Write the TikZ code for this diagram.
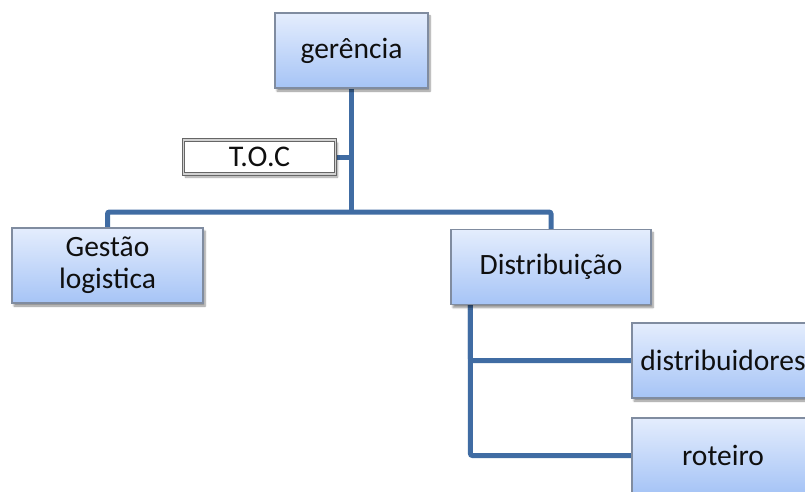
\documentclass[tikz,border=0pt]{standalone}
\usepackage{fontspec}
\setmainfont{Carlito}
\usetikzlibrary{shadows.blur,calc,backgrounds}
\definecolor{lineblue}{RGB}{64,108,163}
\definecolor{boxtop}{RGB}{228,237,253}
\definecolor{boxbot}{RGB}{166,196,246}
\definecolor{boxedge}{RGB}{128,140,160}
\definecolor{txt}{RGB}{15,15,15}
\tikzset{
  orgbox/.style={draw=boxedge, line width=1.2pt, top color=boxtop, bottom color=boxbot,
    minimum height=75pt, inner sep=2pt, align=center, text=txt,
    font=\fontsize{29.5}{32}\selectfont,
    blur shadow={shadow xshift=2pt, shadow yshift=-3pt, shadow blur steps=6, shadow opacity=45}},
  tocbox/.style={draw=gray!80!black, line width=0.8pt, double=gray!35, double distance=1.6pt,
    fill=white, minimum width=152pt, minimum height=34pt, inner sep=1pt, text=txt,
    font=\fontsize{30}{32}\selectfont,
    blur shadow={shadow xshift=2pt, shadow yshift=-3pt, shadow blur steps=6, shadow opacity=40}},
  conn/.style={draw=lineblue, line width=5pt, rounded corners=2pt}
}
\begin{document}
\begin{tikzpicture}[x=1pt,y={(0pt,-1pt)}]
\useasboundingbox (0,0) rectangle (805,492);
\clip (0,0) rectangle (805,492);
\node[orgbox, minimum width=153pt] (ger) at (351.5,50.5) {gerência};
\node[tocbox] (toc) at (259.5,157) {T.O.C};
\node[orgbox, minimum width=191pt] (gest) at (107.5,265.5) {Gestão\\logistica};
\node[orgbox, minimum width=200pt] (dist) at (551,267) {Distribuição};
\node[orgbox, minimum width=182pt] (distr) at (723,360.5) {distribuidores};
\node[orgbox, minimum width=182pt] (rot) at (723,455.5) {roteiro};
\coordinate (hub) at (ger.south |- 0,212);
\coordinate (br) at ($(dist.south west)+(20,0)$);
\begin{pgfonlayer}{background}
\draw[conn] (gest.north) |- (hub) -| (dist.north);
\draw[conn] (ger.south) -- (hub);
\draw[conn] (toc.east) -- (toc.east -| hub);
\draw[conn] (br) |- (distr.west);
\draw[conn] (br) |- (rot.west);
\end{pgfonlayer}
\end{tikzpicture}
\end{document}
